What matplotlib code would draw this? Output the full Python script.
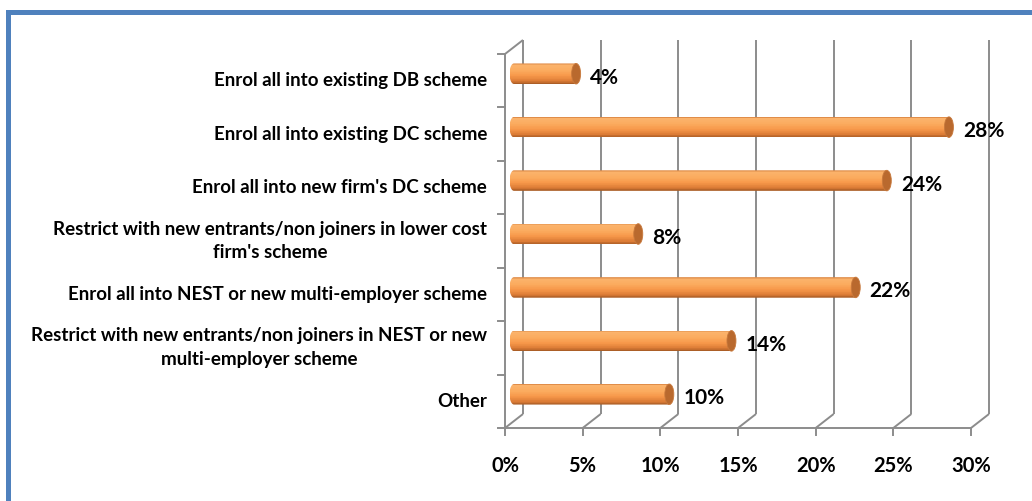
import numpy as np
import matplotlib
matplotlib.use("Agg")
import matplotlib.pyplot as plt
from matplotlib.colors import LinearSegmentedColormap
from matplotlib.patches import Ellipse, PathPatch, Rectangle
from matplotlib.path import Path
from matplotlib.transforms import offset_copy

categories = [
    "Enrol all into existing DB scheme",
    "Enrol all into existing DC scheme",
    "Enrol all into new firm's DC scheme",
    "Restrict with new entrants/non joiners in lower cost\nfirm's scheme",
    "Enrol all into NEST or new multi-employer scheme",
    "Restrict with new entrants/non joiners in NEST or new\nmulti-employer scheme",
    "Other",
]
shares = [4, 28, 24, 8, 22, 14, 10]
x_ticks = [0, 5, 10, 15, 20, 25, 30]
x_ticklabels = ["0%", "5%", "10%", "15%", "20%", "25%", "30%"]

W, H = 1032, 501
GRID = "#8c8c8c"
FONT = "Lato"
DEPTH = (-18, -14)          # back wall -> front plane, in pixels
BAR_H = 0.385               # fraction of a category band
CAP_PX = 4.5                # half-width of the cylinder end caps

fig = plt.figure(figsize=(W / 100, H / 100), dpi=100)
fig.patch.set_facecolor("white")

# blue frame, only top and left edges fall inside the image
fig.add_artist(Rectangle((7.5 / W, -0.1), 1.2, (H - 12) / H + 0.1,
                         transform=fig.transFigure, fill=False,
                         edgecolor="#4f81bd", lw=3.6))

# axes = back wall of the 3-D plot
ax = fig.add_axes([523 / W, (H - 414) / H, (989 - 523) / W, (414 - 40) / H])
ax.set_xlim(0, 30)
ax.set_ylim(0, len(categories))
ax.axis("off")

back = ax.transData
front = offset_copy(ax.transData, fig=fig, x=DEPTH[0], y=DEPTH[1], units="dots")
mid = offset_copy(ax.transData, fig=fig, x=DEPTH[0] / 2, y=DEPTH[1] / 2, units="dots")
n = len(categories)

line_kw = dict(color=GRID, lw=1.4, clip_on=False, solid_capstyle="butt", zorder=0.5)
front_pt = lambda x, y: ax.transData.inverted().transform(front.transform((x, y)))

# back wall gridlines and floor diagonals
for t in x_ticks:
    ax.plot([t, t], [0, n], transform=back, **line_kw)
    fx, fy = front_pt(t, 0)
    ax.plot([t, fx], [0, fy], transform=back, **line_kw)
# front baseline and left wall
ax.plot([0, 30], [0, 0], transform=front, **line_kw)
ax.plot([0, 0], [0, n], transform=front, **line_kw)
fx, fy = front_pt(0, n)
ax.plot([0, fx], [n, fy], transform=back, **line_kw)

tick_down = offset_copy(front, fig=fig, x=0, y=-7, units="dots")
for t in x_ticks:
    p0 = front.transform((t, 0))
    p1 = tick_down.transform((t, 0))
    fig.add_artist(plt.Line2D([p0[0] / W, p1[0] / W], [p0[1] / H, p1[1] / H],
                              transform=fig.transFigure, color=GRID, lw=1.4))
tick_left = offset_copy(front, fig=fig, x=-7, y=0, units="dots")
for k in range(n + 1):
    p0 = front.transform((0, k))
    p1 = tick_left.transform((0, k))
    fig.add_artist(plt.Line2D([p0[0] / W, p1[0] / W], [p0[1] / H, p1[1] / H],
                              transform=fig.transFigure, color=GRID, lw=1.4))

# cylinder shading, top to bottom
shade = LinearSegmentedColormap.from_list("cyl", [
    (0.0, "#d98440"), (0.08, "#fbb36c"), (0.35, "#fbab5e"),
    (0.6, "#f7984a"), (0.85, "#dc7c36"), (1.0, "#a65a24")])

px_per_x = (989 - 523) / 30
rx = CAP_PX / px_per_x
n_strip = 30
value_lbl = offset_copy(mid, fig=fig, x=0, y=-4, units="dots")
cat_lbl = offset_copy(front, fig=fig, x=-18, y=0, units="dots")
for i, (cat, v) in enumerate(zip(categories, shares)):
    yc = n - 0.5 - i
    top, bot = yc + BAR_H / 2, yc - BAR_H / 2
    th = np.linspace(np.pi / 2, 3 * np.pi / 2, 40)
    left_end = np.column_stack([rx * np.cos(th), yc + BAR_H / 2 * np.sin(th)])
    verts = np.vstack([left_end, [[v, bot], [v, top]], left_end[:1]])
    outline = PathPatch(Path(verts, closed=True), transform=mid,
                        facecolor="none", edgecolor="none")
    ax.add_patch(outline)
    edges = np.linspace(top, bot, n_strip + 1)
    for j in range(n_strip):
        r = Rectangle((-rx, edges[j + 1]), v + rx, edges[j] - edges[j + 1],
                      transform=mid, facecolor=shade((j + 0.5) / n_strip),
                      edgecolor="none")
        ax.add_patch(r)
        r.set_clip_path(outline)
        r.set_clip_box(None)
    ax.add_patch(Ellipse((v, yc), 2 * rx, BAR_H, transform=mid,
                         facecolor="#b9692e", edgecolor="#c8793c", lw=0.6,
                         clip_on=False))
    ax.text(v + 0.9, yc, f"{v}%", transform=value_lbl, ha="left", va="center",
            fontsize=15, fontweight="bold", family=FONT, color="black")

    ax.text(0, yc, cat, transform=cat_lbl, ha="right", va="center",
            multialignment="center", linespacing=1.5,
            fontsize=13.5, fontweight="bold", family=FONT, color="black")

tick_lbl = offset_copy(front, fig=fig, x=0, y=-38, units="dots")
for t, s in zip(x_ticks, x_ticklabels):
    ax.text(t, 0, s, transform=tick_lbl, ha="center", va="center",
            fontsize=14.5, fontweight="bold", family=FONT, color="black")

fig.savefig("out.png", dpi=100)
